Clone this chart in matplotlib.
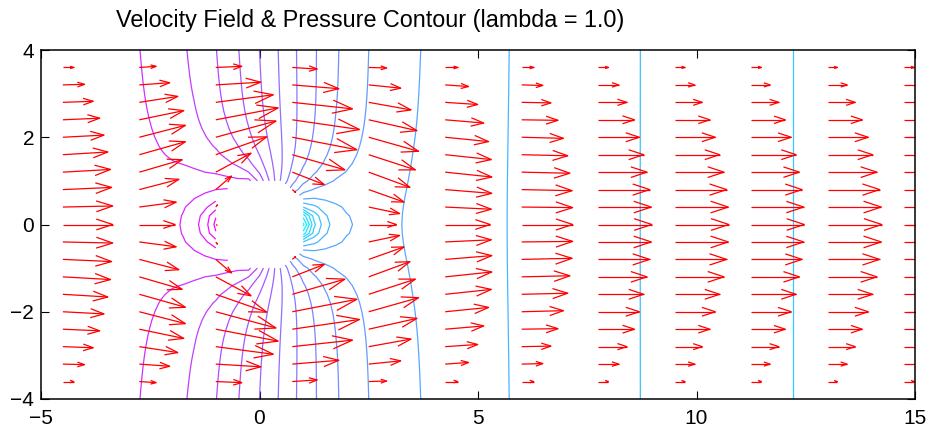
import numpy as np
import matplotlib
matplotlib.use("Agg")
import matplotlib.pyplot as plt
from matplotlib.collections import LineCollection
from matplotlib.colors import Normalize

plt.rcParams["font.family"] = ["Liberation Sans", "DejaVu Sans"]

# ---- velocity samples (upper half; lower half is the mirror image) ----
ARROW_X = [-4.5, -2.75, -1.0, 0.75, 2.5, 4.25, 6.0, 7.75, 9.5, 11.25, 13.0, 14.75]
ARROW_Y = [3.6, 3.2, 2.8, 2.4, 2.0, 1.6, 1.2, 0.8, 0.4, 0.0]

# u per column (top row first), scaled so the far-field centreline speed is 1
U_TOP = [
    [0.20, 0.40, 0.56, 0.68, 0.76, 0.83, 0.88, 0.90, 0.92, 0.92],
    [0.31, 0.56, 0.71, 0.82, 0.85, 0.85, 0.79, 0.73, 0.68, 0.66],
    [0.48, 0.83, 1.06, 1.15, 1.11, 0.94, 0.65, 0.29, 0.03, 0.015],
    [0.46, 0.86, 1.11, 1.24, 1.19, 0.97, 0.59, 0.06, 0.0, 0.0],
    [0.33, 0.59, 0.78, 0.89, 0.92, 0.86, 0.76, 0.65, 0.57, 0.51],
    [0.23, 0.43, 0.60, 0.71, 0.80, 0.85, 0.86, 0.86, 0.85, 0.83],
    [0.22, 0.39, 0.54, 0.67, 0.77, 0.85, 0.89, 0.93, 0.94, 0.94],
    [0.19, 0.38, 0.53, 0.67, 0.76, 0.84, 0.90, 0.95, 0.98, 0.99],
    [0.19, 0.37, 0.51, 0.65, 0.75, 0.83, 0.91, 0.96, 0.99, 1.00],
    [0.19, 0.35, 0.51, 0.63, 0.74, 0.83, 0.89, 0.94, 0.97, 0.98],
    [0.18, 0.36, 0.51, 0.64, 0.75, 0.83, 0.91, 0.96, 0.99, 1.00],
    [0.19, 0.36, 0.51, 0.64, 0.75, 0.84, 0.91, 0.96, 0.99, 1.00],
]
V_TOP = [
    [0.00, 0.01, 0.02, 0.03, 0.04, 0.05, 0.05, 0.04, 0.02, 0.0],
    [0.02, 0.04, 0.11, 0.17, 0.22, 0.24, 0.23, 0.19, 0.09, 0.0],
    [0.02, 0.05, 0.14, 0.22, 0.30, 0.33, 0.35, 0.25, 0.04, 0.0],
    [-0.03, -0.07, -0.12, -0.18, -0.23, -0.28, -0.23, -0.05, 0.0, 0.0],
    [-0.01, -0.06, -0.14, -0.20, -0.26, -0.28, -0.28, -0.23, -0.12, 0.0],
    [0.00, -0.03, -0.04, -0.06, -0.08, -0.09, -0.09, -0.07, -0.04, 0.0],
    [0.00, -0.01, -0.01, -0.01, -0.02, -0.02, -0.02, -0.02, -0.01, 0.0],
    [0.0] * 10,
    [0.0] * 10,
    [0.0] * 10,
    [0.0] * 10,
    [0.0] * 10,
]
ARROW_SCALE = 1.24

# ---- pressure, in contour-level units ----
# along the channel walls (y = +-4)
WALL_X = [-5.0, -2.72, -1.63, -0.98, -0.47, 0.0, 0.43, 0.84, 1.30, 1.80,
          2.50, 3.66, 5.70, 8.71, 12.22, 15.0]
WALL_P = [13.95, 13, 12, 11, 10, 9, 8, 7, 6, 5, 4, 3, 2, 1, 0, -0.8]
# on the cylinder (radius 1), by polar angle in degrees, 0 = downstream side
SURF_ANG = [0, 5, 10, 15, 20, 25, 33, 43, 53, 62, 70, 80, 90, 98, 110, 123,
            140, 155, 170, 180]
SURF_P = [-4.3, -4.0, -3.0, -1.5, 0.0, 1.5, 3.5, 5.2, 6.6, 7.8, 9.0, 10.3,
          11.7, 13.0, 13.6, 14.0, 15.0, 16.0, 17.0, 17.3]
DECAY = 1.0          # inverse length over which the cylinder disturbance fades
LEVELS = np.arange(-4, 18)


def solve_pressure():
    """Wall profile plus a screened disturbance around the cylinder,
    fixed on the cylinder and vanishing on the walls and at both ends."""
    xg = np.linspace(-5, 15, 81)
    yh = np.linspace(0, 4, 21)
    nx, ny = len(xg), len(yh)
    X, Y = np.meshgrid(xg, yh)
    R = np.hypot(X, Y)
    base = np.interp(X, WALL_X, WALL_P)

    body = R < 1.05
    fixed = body.copy()
    fixed[:, 0] = fixed[:, -1] = True
    fixed[-1, :] = True
    val = np.zeros_like(X)
    val[body] = np.interp(np.degrees(np.arctan2(Y[body], X[body])),
                          SURF_ANG, SURF_P) - base[body]

    ax2 = 1.0 / (xg[1] - xg[0]) ** 2
    ay2 = 1.0 / (yh[1] - yh[0]) ** 2
    n = nx * ny
    idx = np.arange(n).reshape(ny, nx)
    A = np.zeros((n, n))
    b = np.zeros(n)
    for j in range(ny):
        for i in range(nx):
            k = idx[j, i]
            if fixed[j, i]:
                A[k, k] = 1.0
                b[k] = val[j, i]
                continue
            A[k, k] = -2 * ax2 - 2 * ay2 - DECAY ** 2
            A[k, idx[j, i - 1]] += ax2
            A[k, idx[j, i + 1]] += ax2
            js = j - 1 if j > 0 else j + 1   # mirror across the axis
            A[k, idx[j + 1, i]] += ay2
            A[k, idx[js, i]] += ay2
    P = base + np.linalg.solve(A, b).reshape(ny, nx)

    yg = np.concatenate([-yh[:0:-1], yh])
    Pf = np.vstack([P[:0:-1], P])
    Xf, Yf = np.meshgrid(xg, yg)
    return Xf, Yf, np.ma.masked_where(np.hypot(Xf, Yf) < 0.999, Pf)


def arrow_lines(x, y, u, v, alpha=0.33, beta=0.33):
    lines = []
    for x0, y0, du, dv in zip(x, y, u, v):
        if du == 0 and dv == 0:
            continue
        tx, ty = x0 + du, y0 + dv
        lines.append([(x0, y0), (tx, ty)])
        lines.append([(tx - alpha * (du + beta * dv), ty - alpha * (dv - beta * du)),
                      (tx, ty),
                      (tx - alpha * (du - beta * dv), ty - alpha * (dv + beta * du))])
    return lines


fig = plt.figure(figsize=(9.3, 4.33), dpi=100)
ax = fig.add_axes([41 / 930, 34 / 433, 874 / 930, 349 / 433])

X, Y, P = solve_pressure()
ax.contour(X, Y, P, levels=LEVELS, cmap="cool",
           norm=Normalize(min(SURF_P), max(SURF_P)), linewidths=0.9)

# full quiver grid from the mirrored upper half
ys = np.array(ARROW_Y + [-y for y in ARROW_Y[-2::-1]])
U = np.array([col + col[-2::-1] for col in U_TOP])
V = np.array([col + [-v for v in col[-2::-1]] for col in V_TOP])
QX, QY = np.meshgrid(ARROW_X, ys, indexing="ij")
segs = arrow_lines(QX.ravel(), QY.ravel(),
                   ARROW_SCALE * U.ravel(), ARROW_SCALE * V.ravel())
ax.add_collection(LineCollection(segs, colors="red", linewidths=0.9))

ax.set_xlim(-5, 15)
ax.set_ylim(-4, 4)
ax.set_xticks([-5, 0, 5, 10, 15])
ax.set_yticks([-4, -2, 0, 2, 4])
ax.tick_params(direction="in", top=True, right=True, length=6, width=0.8,
               labelsize=15)
ax.tick_params(axis="x", pad=7)
ax.tick_params(axis="y", pad=5)
for sp in ax.spines.values():
    sp.set_linewidth(1.1)

fig.text(370 / 930, 1 - 20 / 433, "Velocity Field & Pressure Contour (lambda = 1.0)",
         ha="center", va="center", fontsize=16.8)

fig.savefig("out.png", dpi=100)
